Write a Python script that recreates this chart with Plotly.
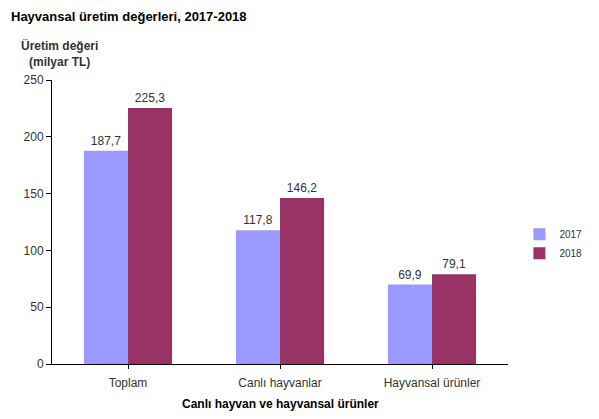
import plotly.graph_objects as go

categories = ["Toplam", "Canlı hayvanlar", "Hayvansal ürünler"]
values_2017 = [187.7, 117.8, 69.9]
values_2018 = [225.3, 146.2, 79.1]
series_names = ["2017", "2018"]
y_ticks = [0, 50, 100, 150, 200, 250]

def fmt(v):
    return f"{v:.1f}".replace(".", ",")

FONT = "Arial, Liberation Sans, sans-serif"
colors = ["#9999FF", "#993366"]

fig = go.Figure()
for name, vals, col in zip(series_names, [values_2017, values_2018], colors):
    fig.add_trace(go.Bar(
        x=categories, y=vals, name=name,
        marker=dict(color=col, line=dict(width=0)),
        text=[fmt(v) for v in vals], textposition="outside",
        textfont=dict(family=FONT, size=12, color="#333333"),
        cliponaxis=False,
    ))

PW = 475.0  # plot width
PH = 284.0  # plot height
fig.update_layout(
    width=599, height=419,
    margin=dict(l=52, r=72, t=80, b=55),
    paper_bgcolor="white", plot_bgcolor="white",
    barmode="group", bargap=0.42, bargroupgap=0,
    font=dict(family=FONT, size=12, color="#333333"),
    showlegend=True,
    legend=dict(x=1.025, y=0.423, xanchor="left", yanchor="middle",
                font=dict(family=FONT, size=10, color="#333333"),
                itemwidth=30, tracegroupgap=0, bgcolor="rgba(0,0,0,0)"),
    xaxis=dict(showline=True, linecolor="black", linewidth=1,
               ticks="outside", ticklen=4, tickcolor="black",
               tickfont=dict(family=FONT, size=12, color="#333333"),
               ticklabelstandoff=4,
               showgrid=False),
    yaxis=dict(range=[0, 250], tickvals=y_ticks, showline=True, linecolor="black",
               linewidth=1, ticks="outside", ticklen=5, tickcolor="black",
               tickfont=dict(family=FONT, size=12, color="#333333"),
               showgrid=False, zeroline=False),
    annotations=[
        dict(text="<b>Hayvansal üretim değerleri, 2017-2018</b>", xref="paper", yref="paper",
             x=-45 / PW, y=1 + (80 - 17) / PH, xanchor="left", yanchor="middle",
             showarrow=False, font=dict(family=FONT, size=13, color="#000000")),
        dict(text="<b>Üretim değeri<br>(milyar TL)</b>", xref="paper", yref="paper",
             x=(60 - 52) / PW, y=1 + (80 - 54) / PH, xanchor="center", yanchor="middle",
             showarrow=False, font=dict(family=FONT, size=12, color="#333333"), align="center"),
        dict(text="<b>Canlı hayvan ve hayvansal ürünler</b>", xref="paper", yref="paper",
             x=(290 - 52) / PW, y=-(404 - 364) / PH, xanchor="center", yanchor="middle",
             showarrow=False, font=dict(family=FONT, size=12, color="#000000")),
    ],
)

fig.write_html("out.html",
               config={"displayModeBar": False},
               post_script="document.body.style.margin='0';document.body.style.overflow='hidden';")
